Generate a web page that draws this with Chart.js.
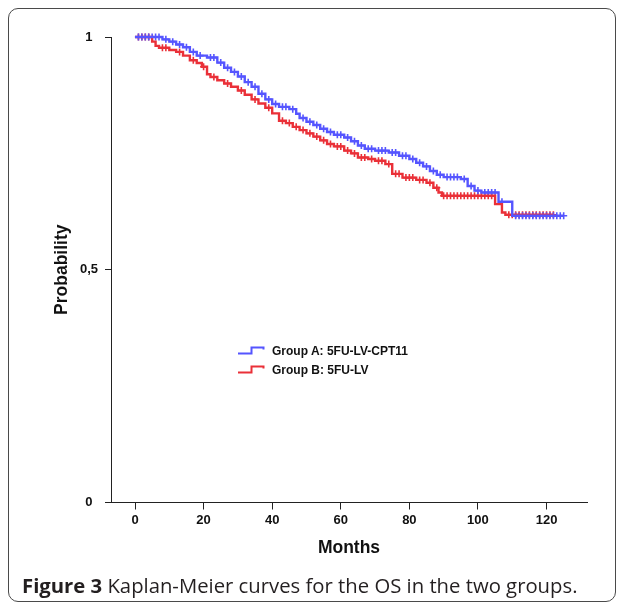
<!DOCTYPE html>
<html>
<head>
<meta charset="utf-8">
<script src="https://cdn.jsdelivr.net/npm/chart.js@4.4.1/dist/chart.umd.min.js"></script>
<style>
  html, body { margin: 0; padding: 0; background: #fff; }
  body { width: 624px; height: 604px; position: relative; overflow: hidden; }
  #frame { position: absolute; left: 8px; top: 8px; width: 606px; height: 592px;
           border: 1px solid #4a4a4a; border-radius: 10px; }
  #wrap { position: absolute; left: 0; top: 0; width: 624px; height: 600px; }
  #legend { position: absolute; left: 238px; top: 341px; font: bold 12px "Liberation Sans", Arial, sans-serif; color: #111; }
  #legend .row { height: 19px; display: flex; align-items: center; }
  #legend svg { margin-right: 1px; }
  #caption { position: absolute; left: 22px; top: 571px; font: 20.3px "Open Sans", sans-serif; color: #231f20; white-space: nowrap; }
  #caption b { font-weight: 700; }
</style>
</head>
<body>
<div id="frame"></div>
<div id="wrap"><canvas id="km"></canvas></div>
<div id="legend">
  <div class="row"><svg width="33" height="10"><path d="M0 7.5 H13.5 V1.5 H25.5 V3.5" fill="none" stroke="#5555ff" stroke-width="2"/></svg><span>Group A: 5FU-LV-CPT11</span></div>
  <div class="row"><svg width="33" height="10"><path d="M0 7.5 H13.5 V1.5 H25.5 V3.5" fill="none" stroke="#ea3038" stroke-width="2"/></svg><span>Group B: 5FU-LV</span></div>
</div>
<div id="caption"><b>Figure 3</b> Kaplan-Meier curves for the OS in the two groups.</div>

<script>
// months / survival probability after each step
const groupAMonths = [0, 8, 10, 12, 14, 16, 18, 21, 24, 26, 28, 30, 32, 34, 36, 38, 40, 42, 45, 47, 48, 50, 52, 54, 56, 58, 61, 63, 65, 67, 70, 74, 77, 80, 82, 84, 86, 88, 90, 95, 97, 99, 101, 106, 110, 125];
const groupAProb   = [1, 0.995, 0.99, 0.984, 0.978, 0.968, 0.96, 0.956, 0.945, 0.934, 0.925, 0.915, 0.903, 0.893, 0.878, 0.866, 0.856, 0.85, 0.845, 0.835, 0.826, 0.818, 0.811, 0.803, 0.796, 0.79, 0.784, 0.776, 0.767, 0.76, 0.756, 0.752, 0.745, 0.738, 0.73, 0.722, 0.712, 0.704, 0.699, 0.695, 0.68, 0.67, 0.666, 0.646, 0.616, 0.616];

const groupBMonths = [0, 5, 6, 7, 10, 12, 14, 16, 18, 19.5, 21, 22, 24, 26, 28, 30, 32, 34, 36, 38, 40, 42, 44, 46, 48, 50, 52, 54, 56, 58, 61, 63, 65, 68, 70, 73, 75, 78, 82, 85, 87, 88.5, 89.5, 105, 107, 108, 122];
const groupBProb   = [1, 0.99, 0.981, 0.977, 0.972, 0.968, 0.96, 0.95, 0.944, 0.936, 0.92, 0.914, 0.907, 0.9, 0.893, 0.885, 0.876, 0.866, 0.857, 0.848, 0.836, 0.82, 0.815, 0.807, 0.8, 0.793, 0.786, 0.778, 0.77, 0.765, 0.756, 0.75, 0.741, 0.738, 0.734, 0.727, 0.706, 0.698, 0.693, 0.687, 0.676, 0.666, 0.659, 0.641, 0.623, 0.618, 0.618];

// censored observations (months)
const groupACensored = [1, 2, 3, 4, 5, 6, 7, 9, 11, 13, 15, 17, 19, 22, 23, 25, 27, 29, 31, 33, 35, 37, 39, 41, 43, 44, 46, 49, 51, 53, 55, 57, 59, 60, 62, 64, 66, 68, 69, 71, 72, 73, 75, 76, 78, 79, 81, 83, 85, 87, 89, 91, 92, 93, 94, 96, 98, 100, 102, 103, 104, 105, 107, 111, 112, 113, 114, 115, 116, 117, 118, 119, 120, 121, 122, 123, 124, 125];
const groupBCensored = [1, 2, 3, 4, 8, 9, 13, 17, 20, 23, 27, 31, 35, 39, 43, 45, 47, 49, 51, 53, 55, 57, 59, 60, 62, 64, 66, 67, 69, 71, 72, 74, 76, 77, 79, 80, 81, 83, 84, 86, 88, 90, 91, 92, 93, 94, 95, 96, 97, 98, 99, 100, 101, 102, 103, 104, 109, 110, 111, 112, 113, 114, 115, 116, 117, 118, 119, 120, 121, 122];

const xTicks = [0, 20, 40, 60, 80, 100, 120];
const yTicks = [0, 0.5, 1];
const yTickLabels = ['0', '0,5', '1'];

const blue = '#5555ff';
const red = '#ea3038';
const axisColor = '#222';

function toPoints(months, probs) {
    return months.map((m, i) => ({ x: m, y: probs[i] }));
}

// survival level at month t (step lookup)
function levelAt(months, probs, t) {
    let p = probs[0];
    for (let i = 0; i < months.length; i++) {
        if (months[i] <= t) p = probs[i];
    }
    return p;
}

function censorPoints(times, months, probs) {
    return times.map(t => ({ x: t, y: levelAt(months, probs, t) }));
}

const tickFont = { family: '"Liberation Sans", Arial, sans-serif', size: 13, weight: 'bold' };
const titleFont = { family: '"Liberation Sans", Arial, sans-serif', size: 17.5, weight: 'bold' };

new Chart(document.getElementById('km'), {
    type: 'line',
    data: {
        datasets: [
            {
                label: 'Group A: 5FU-LV-CPT11',
                data: toPoints(groupAMonths, groupAProb),
                borderColor: blue, borderWidth: 2.4, stepped: 'before',
                pointRadius: 0, fill: false, clip: false
            },
            {
                label: 'Group B: 5FU-LV',
                data: toPoints(groupBMonths, groupBProb),
                borderColor: red, borderWidth: 2.4, stepped: 'before',
                pointRadius: 0, fill: false, clip: false
            },
            {
                label: 'A censored',
                data: censorPoints(groupACensored, groupAMonths, groupAProb),
                showLine: false, pointStyle: 'cross', pointRadius: 3.5,
                pointBorderWidth: 1.6, borderColor: blue, backgroundColor: blue, clip: false
            },
            {
                label: 'B censored',
                data: censorPoints(groupBCensored, groupBMonths, groupBProb),
                showLine: false, pointStyle: 'cross', pointRadius: 3.5,
                pointBorderWidth: 1.6, borderColor: red, backgroundColor: red, clip: false
            }
        ]
    },
    options: {
        responsive: true,
        maintainAspectRatio: false,
        animation: false,
        layout: { padding: { top: 37, right: 37, bottom: 37.5, left: 0 } },
        plugins: { legend: { display: false }, tooltip: { enabled: false } },
        scales: {
            x: {
                type: 'linear', min: -7, max: 131.8,
                afterBuildTicks: s => { s.ticks = xTicks.map(v => ({ value: v })); },
                afterFit: s => { s.height = 60; },
                grid: { display: true, drawOnChartArea: false, drawTicks: true, tickLength: 7, color: axisColor },
                border: { display: true, color: axisColor, width: 1 },
                ticks: { color: '#111', font: tickFont, padding: 3, maxRotation: 0 },
                title: { display: true, text: 'Months', color: '#111', font: titleFont, padding: { top: 0, bottom: 4 } }
            },
            y: {
                min: 0, max: 1,
                afterBuildTicks: s => { s.ticks = yTicks.map(v => ({ value: v })); },
                afterFit: s => { s.width = 111; },
                grid: { display: true, drawOnChartArea: false, drawTicks: true, tickLength: 6, color: axisColor },
                border: { display: true, color: axisColor, width: 1 },
                ticks: {
                    color: '#111', font: tickFont, padding: 7, crossAlign: 'center',
                    callback: (v) => yTickLabels[yTicks.indexOf(v)]
                },
                title: { display: true, text: 'Probability', color: '#111', font: titleFont, padding: { top: 52, bottom: 0 } }
            }
        }
    }
});
</script>
</body>
</html>
